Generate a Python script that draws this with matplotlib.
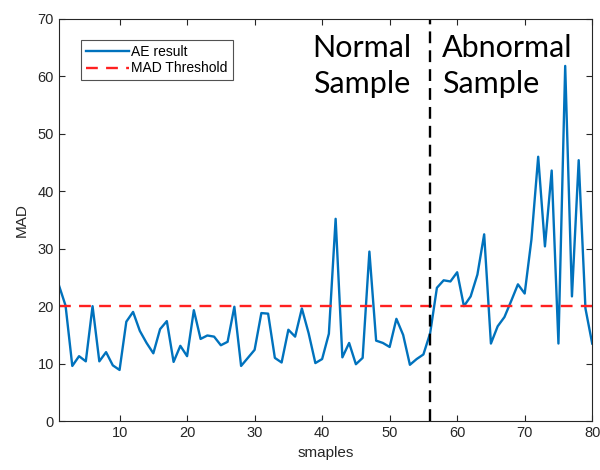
import matplotlib
matplotlib.use("Agg")
import matplotlib.pyplot as plt

# AE reconstruction result per sample
samples = list(range(1, 81))
ae_result = [
    23.7, 20.1, 9.6, 11.3, 10.4, 20.0, 10.4, 12.0, 9.7, 8.9,
    17.3, 19.0, 15.7, 13.6, 11.8, 16.0, 17.4, 10.3, 13.1, 11.3,
    19.3, 14.3, 14.9, 14.7, 13.2, 13.8, 19.9, 9.6, 11.0, 12.4,
    18.8, 18.7, 11.0, 10.2, 15.9, 14.7, 19.6, 15.3, 10.1, 10.8,
    15.2, 35.2, 11.1, 13.6, 9.9, 11.0, 29.5, 14.0, 13.6, 12.9,
    17.8, 15.0, 9.8, 10.8, 11.6, 15.3, 23.2, 24.5, 24.3, 25.9,
    20.0, 21.7, 25.5, 32.5, 13.5, 16.5, 18.1, 20.9, 23.8, 22.2,
    31.6, 46.0, 30.4, 43.6, 13.5, 61.8, 21.7, 45.4, 19.6, 13.5,
]
mad_threshold = 20.0
split_at = 56

x_ticks = [10, 20, 30, 40, 50, 60, 70, 80]
y_ticks = [0, 10, 20, 30, 40, 50, 60, 70]

AXIS_GREY = "#262626"

plt.rcParams["font.family"] = ["Liberation Sans", "DejaVu Sans"]

fig = plt.figure(figsize=(6.0, 4.7), dpi=100)
ax = fig.add_axes([0.098, 0.104, 0.889, 0.856])

ax.plot(samples, ae_result, color="#0072BD", lw=1.7, label="AE result")
ax.axhline(mad_threshold, color="#FF2020", lw=1.7, ls=(0, (5, 3.5)),
           label="MAD Threshold")
ax.axvline(split_at, color="black", lw=1.7, ls=(0, (5, 3)))

ax.set_xlim(1, 80)
ax.set_ylim(0, 70)
ax.set_xticks(x_ticks)
ax.set_yticks(y_ticks)
ax.tick_params(direction="in", top=True, right=True, length=4,
               color=AXIS_GREY, labelcolor=AXIS_GREY, labelsize=10.5)
for sp in ax.spines.values():
    sp.set_color(AXIS_GREY)
    sp.set_linewidth(0.8)

ax.set_xlabel("smaples", fontsize=11, color=AXIS_GREY, labelpad=4)
ax.set_ylabel("MAD", fontsize=11, color=AXIS_GREY, labelpad=6)

txt_kw = dict(fontsize=22, family=["Lato", "DejaVu Sans"], va="top",
              linespacing=1.35, color="black")
ax.text(38.6, 67.4, "Normal\nSample", ha="left", **txt_kw)
ax.text(57.8, 67.4, "Abnormal\nSample", ha="left", **txt_kw)

leg = ax.legend(loc="upper left", bbox_to_anchor=(0.028, 0.965),
                fontsize=10, frameon=True, fancybox=False,
                handlelength=3.1, handletextpad=0.2, borderpad=0.35,
                labelspacing=0.2)
leg.get_frame().set_edgecolor(AXIS_GREY)
leg.get_frame().set_linewidth(0.8)

fig.savefig("out.png", dpi=100)
